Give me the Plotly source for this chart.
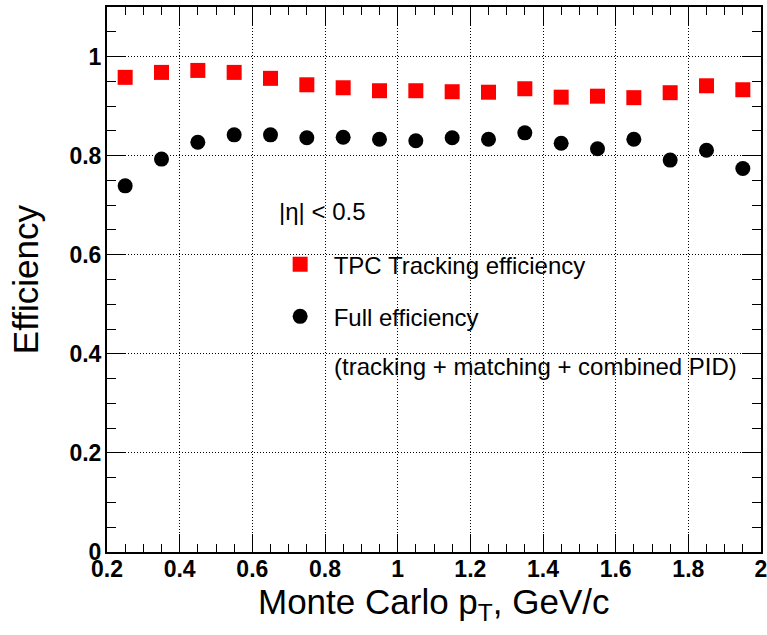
import plotly.graph_objects as go

pt = [0.25, 0.35, 0.45, 0.55, 0.65, 0.75, 0.85, 0.95, 1.05, 1.15, 1.25, 1.35, 1.45, 1.55, 1.65, 1.75, 1.85, 1.95]
tpc_eff = [0.958, 0.968, 0.972, 0.968, 0.956, 0.943, 0.937, 0.931, 0.931, 0.929, 0.928, 0.935, 0.918, 0.920, 0.917, 0.927, 0.941, 0.933]
full_eff = [0.739, 0.793, 0.827, 0.842, 0.842, 0.836, 0.837, 0.833, 0.830, 0.836, 0.833, 0.846, 0.825, 0.814, 0.833, 0.791, 0.811, 0.774]

x_ticks = [0.2, 0.4, 0.6, 0.8, 1.0, 1.2, 1.4, 1.6, 1.8, 2.0]
x_tick_labels = ["0.2", "0.4", "0.6", "0.8", "1", "1.2", "1.4", "1.6", "1.8", "2"]
y_ticks = [0, 0.2, 0.4, 0.6, 0.8, 1.0]
y_tick_labels = ["0", "0.2", "0.4", "0.6", "0.8", "1"]

FONT = "Liberation Sans, Arial, Helvetica, sans-serif"

fig = go.Figure()
fig.add_trace(go.Scatter(
    x=pt, y=tpc_eff, mode="markers", name="TPC Tracking efficiency",
    legendgroup="a",
    marker=dict(symbol="square", size=15, color="#ff0000", line=dict(width=0)),
))
fig.add_trace(go.Scatter(
    x=pt, y=full_eff, mode="markers", name="Full efficiency",
    legendgroup="b",
    marker=dict(symbol="circle", size=15, color="black", line=dict(width=0)),
))

grid_dash = "1px,2px"
axis_common = dict(
    showline=True, linecolor="black", linewidth=2, mirror="allticks",
    ticks="inside", tickcolor="black", tickwidth=1,
    showgrid=True, gridcolor="black", gridwidth=1, griddash=grid_dash,
    zeroline=False, ticklabeloverflow="allow",
    tickfont=dict(family=FONT, size=23, color="black", weight="bold"),
)

fig.update_xaxes(
    range=[0.2, 2.0], tickvals=x_ticks, ticktext=x_tick_labels, ticklen=18,
    ticklabelstandoff=-5,
    minor=dict(dtick=0.05, tick0=0.2, ticks="inside", ticklen=8, tickcolor="black", showgrid=False),
    **axis_common,
)
fig.update_yaxes(
    range=[0, 1.1], tickvals=y_ticks, ticktext=y_tick_labels, ticklen=19,
    ticklabelstandoff=-1,
    minor=dict(dtick=0.05, tick0=0, ticks="inside", ticklen=9, tickcolor="black", showgrid=False),
    **axis_common,
)

fig.update_layout(
    width=767, height=635,
    margin=dict(l=107, r=6, t=7, b=83, autoexpand=False),
    plot_bgcolor="white", paper_bgcolor="white",
    font=dict(family=FONT, color="black"),
    showlegend=True,
    legend=dict(
        x=0.2441, y=0.5687, xanchor="left", yanchor="top",
        xref="paper", yref="paper",
        bgcolor="rgba(0,0,0,0)", borderwidth=0,
        font=dict(family=FONT, size=24, color="black"),
        itemwidth=57, traceorder="grouped", tracegroupgap=18,
        itemsizing="trace",
    ),
    annotations=[
        dict(text="|η| < 0.5", x=0.2594, y=0.6245, xref="paper", yref="paper",
             xanchor="left", yanchor="middle", showarrow=False,
             font=dict(family=FONT, size=24, color="black")),
        dict(text="(tracking + matching + combined PID)", x=0.3439, y=0.3398,
             xref="paper", yref="paper", xanchor="left", yanchor="middle", showarrow=False,
             font=dict(family=FONT, size=24, color="black")),
        dict(text="Monte Carlo p<sub>T</sub>, GeV/c", x=0.5, y=-0.096,
             xref="paper", yref="paper", xanchor="center", yanchor="middle", showarrow=False,
             font=dict(family=FONT, size=35, color="black")),
        dict(text="Efficiency", x=-0.1243, y=0.5, textangle=-90,
             xref="paper", yref="paper", xanchor="center", yanchor="middle", showarrow=False,
             font=dict(family=FONT, size=35, color="black")),
    ],
)

fig.write_html("out.html")
